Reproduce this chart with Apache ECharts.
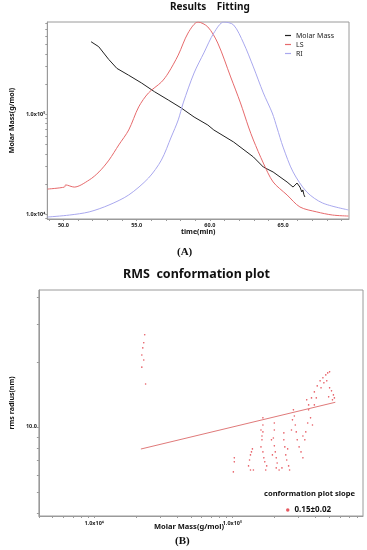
<!DOCTYPE html>
<html><head><meta charset="utf-8">
<script src="https://cdn.jsdelivr.net/npm/echarts@6.0.0/dist/echarts.min.js"></script>
<style>html,body{margin:0;padding:0;background:#fff}#c{width:367px;height:550px}</style>
</head><body><div id="c"></div>
<script>
// ---- Panel A data ----
const timeLabels = [50, 55, 60, 65];
const timeTicks = [49,50,51,52,53,54,55,56,57,58,59,60,61,62,63,64,65,66,67,68,69];
const massLabels = [10000, 100000];
const massTicks = [9000,10000,20000,30000,40000,50000,60000,70000,80000,90000,100000,200000,300000,400000,500000,600000,700000,800000];
const molarTime = [51.89,52.41,53.09,53.65,54.44,55.34,56.22,57.16,58.04,58.92,59.86,60.27,61.62,62.97,63.65,64.32,65.27,65.68,65.95,66.15,66.28,66.35,66.42,66.49];
const molarMass = [528000,471000,352000,286000,245000,204000,167000,138000,115000,93300,77600,69200,52500,37200,29500,26300,20900,18600,20400,18600,16600,17400,15600,14800];
const lsTime = [48.92,50.07,50.15,50.74,51.76,52.43,53.11,53.78,54.46,55.14,55.81,56.69,57.16,57.84,58.51,59.19,59.86,60.54,61.42,62.09,62.64,62.97,63.65,64.32,65.27,66.15,67.30,68.38,69.46];
const lsSignal = [0.152,0.162,0.173,0.162,0.198,0.239,0.299,0.376,0.452,0.569,0.640,0.695,0.741,0.832,0.944,1.0,0.975,0.893,0.721,0.589,0.467,0.401,0.284,0.188,0.122,0.061,0.036,0.020,0.015];
const riTime = [48.92,50.41,51.76,53.11,54.46,55.81,56.69,57.36,57.84,58.18,58.92,59.59,60.27,60.95,61.62,62.30,62.97,63.65,64.26,64.59,65.00,65.68,66.62,67.70,69.46];
const riSignal = [0.010,0.020,0.036,0.071,0.122,0.208,0.299,0.416,0.503,0.589,0.741,0.843,0.944,1.0,0.985,0.893,0.772,0.640,0.538,0.462,0.365,0.239,0.137,0.081,0.046];

// ---- Panel B data ----
const rmsMassLabels = [10000, 100000];
const rmsMassTicks = [4000,5000,6000,7000,8000,9000,10000,20000,30000,40000,50000,60000,70000,80000,90000,100000,200000,300000,400000,500000,600000,700000,800000];
const radiusLabels = [10];
const radiusTicks = [4,5,6,7,8,9,10,20,30,40];
const rmsMass = [23210,22840,22470,22120,22120,22840,23560,
  103200,103200,101600,
  130900,133100,135200,137400,139600,135200,141900,
  166300,166300,166300,163700,163700,161000,166300,168900,171600,177100,174300,161000,
  201100,201100,197900,201100,204300,207600,210900,217800,207600,194800,191800,
  235700,235700,239500,243300,247200,255200,259300,228300,251200,
  276300,280700,285200,289800,294400,303900,313700,323800,272000,267600,
  345100,356200,367700,379600,339700,334300,391800,404500,323800,350600,
  356200,373600,391800,411000,431000,451900,474000,489400,505100,459200,481800,437900,
  505100,521400,538200,547000,497300,529800];
const rmsRadius = [26.7,24.5,23.2,21.5,18.9,20.4,15.8,
  7.19,6.89,6.19,
  6.60,7.03,7.42,7.66,7.91,6.32,6.32,
  11.01,10.21,9.48,9.08,8.71,8.08,7.66,7.19,6.89,6.60,6.32,9.68,
  10.43,9.68,8.89,8.17,7.66,7.19,6.81,6.32,6.46,7.42,8.71,
  9.38,8.71,8.08,7.42,7.03,6.60,6.32,6.46,7.91,
  11.99,11.24,10.21,9.48,8.71,8.08,7.66,7.19,10.78,9.68,
  13.34,11.99,11.01,10.21,9.48,8.71,12.64,13.62,9.08,10.43,
  12.64,13.62,14.52,15.48,16.33,16.86,17.40,17.78,17.98,15.99,16.33,15.16,
  15.16,14.68,14.06,13.62,13.77,13.34];
const fitMass = [21780, 555600];
const fitRadius = [7.9, 13.0];
const slopeText = '0.15\u00b10.02';

const zip = (a, b) => a.map((v, i) => [v, b[i]]);
const supDigits = {'3':'\u00b3','4':'\u2074','5':'\u2075','6':'\u2076'};
const sci = v => '1.0x10' + supDigits[String(Math.round(Math.log10(v)))];

const FONT = 'Noto Sans';
const axisGray = '#9a9a9a';
const tickLabel = {fontSize: 5.5, fontWeight: 'bold', color: '#222', fontFamily: FONT};

const chart = echarts.init(document.getElementById('c'), null, {renderer: 'canvas'});
chart.setOption({
  animation: false,
  backgroundColor: '#fff',
  title: [
    {text: 'Results    Fitting', left: 170, top: 2, padding: 0, textStyle: {fontSize: 10, fontWeight: 'bold', color: '#111', fontFamily: FONT}},
    {text: 'RMS  conformation plot', left: 123, top: 268, padding: 0, textStyle: {fontSize: 12.5, fontWeight: 'bold', color: '#111', fontFamily: FONT}}
  ],
  legend: [
    {orient: 'vertical', left: 280, top: 27, itemWidth: 6, itemHeight: 1.2, itemGap: 2, icon: 'rect',
     data: ['Molar Mass', 'LS', 'RI'], textStyle: {fontSize: 7, color: '#222', fontFamily: FONT}, selectedMode: false},
    {orient: 'vertical', left: 281, top: 501, itemWidth: 3.5, itemHeight: 3.5, icon: 'circle',
     data: [slopeText], textStyle: {fontSize: 8, fontWeight: 'bold', color: '#111', fontFamily: FONT}, selectedMode: false}
  ],
  grid: [
    {left: 45, top: 22, width: 304, height: 197, show: true, borderColor: axisGray, borderWidth: 1},
    {left: 23, top: 290, width: 340, height: 226, show: true, borderColor: axisGray, borderWidth: 1}
  ],
  xAxis: [
    {type: 'value', gridIndex: 0, min: 48.9, max: 69.5,
     name: 'time(min)', nameLocation: 'middle', nameGap: 7,
     nameTextStyle: {fontSize: 7, fontWeight: 'bold', color: '#111', fontFamily: FONT},
     axisLine: {lineStyle: {color: axisGray}},
     axisTick: {customValues: timeTicks, length: 2, lineStyle: {color: axisGray}},
     axisLabel: {customValues: timeLabels, formatter: v => v.toFixed(1), margin: 3, ...tickLabel},
     splitLine: {show: false}},
    {type: 'log', gridIndex: 1, min: 3981, max: 881000,
     axisLine: {lineStyle: {color: axisGray}},
     axisTick: {customValues: rmsMassTicks, length: 2, lineStyle: {color: axisGray}},
     axisLabel: {customValues: rmsMassLabels, formatter: sci, margin: 4, ...tickLabel},
     splitLine: {show: false}}
  ],
  yAxis: [
    {type: 'log', gridIndex: 0, min: 8913, max: 831800,
     name: 'Molar Mass(g/mol)', nameLocation: 'middle', nameGap: 21,
     nameTextStyle: {fontSize: 7, fontWeight: 'bold', color: '#111', fontFamily: FONT},
     axisLine: {lineStyle: {color: axisGray}},
     axisTick: {customValues: massTicks, length: 2, lineStyle: {color: axisGray}},
     axisLabel: {customValues: massLabels, formatter: sci, margin: 2, ...tickLabel},
     splitLine: {show: false}},
    {type: 'value', gridIndex: 0, min: 0, max: 1, show: false},
    {type: 'log', gridIndex: 1, min: 3.87, max: 43,
     name: 'rms radius(nm)', nameLocation: 'middle', nameGap: 12,
     nameTextStyle: {fontSize: 7, fontWeight: 'bold', color: '#111', fontFamily: FONT},
     axisLine: {lineStyle: {color: axisGray}},
     axisTick: {customValues: radiusTicks, length: 2, lineStyle: {color: axisGray}},
     axisLabel: {customValues: radiusLabels, formatter: v => v.toFixed(1), margin: 2, ...tickLabel},
     splitLine: {show: false}}
  ],
  graphic: [
    {type: 'text', left: 177, top: 247, style: {text: '(A)', fontSize: 11, fontWeight: 'bold', fontFamily: 'Liberation Serif', fill: '#111'}},
    {type: 'text', left: 175, top: 536, style: {text: '(B)', fontSize: 11, fontWeight: 'bold', fontFamily: 'Liberation Serif', fill: '#111'}},
    {type: 'text', left: 154, top: 523, style: {text: 'Molar Mass(g/mol)', fontSize: 7.5, fontWeight: 'bold', fontFamily: FONT, fill: '#111'}},
    {type: 'text', left: 264, top: 490, style: {text: 'conformation plot slope', fontSize: 7.6, fontWeight: 'bold', fontFamily: FONT, fill: '#111'}}
  ],
  series: [
    {name: 'Molar Mass', type: 'line', xAxisIndex: 0, yAxisIndex: 0, data: zip(molarTime, molarMass),
     showSymbol: false, symbol: 'none', lineStyle: {color: '#222', width: 1}, itemStyle: {color: '#222'}},
    {name: 'LS', type: 'line', xAxisIndex: 0, yAxisIndex: 1, data: zip(lsTime, lsSignal), smooth: 0.3,
     showSymbol: false, symbol: 'none', lineStyle: {color: '#e66a6c', width: 1}, itemStyle: {color: '#e66a6c'}},
    {name: 'RI', type: 'line', xAxisIndex: 0, yAxisIndex: 1, data: zip(riTime, riSignal), smooth: 0.3,
     showSymbol: false, symbol: 'none', lineStyle: {color: '#a9a8ee', width: 1}, itemStyle: {color: '#a9a8ee'}},
    {name: slopeText, type: 'scatter', xAxisIndex: 1, yAxisIndex: 2, data: zip(rmsMass, rmsRadius),
     symbolSize: 1.6, itemStyle: {color: '#e0303a'}},
    {name: 'fit', type: 'line', xAxisIndex: 1, yAxisIndex: 2, data: zip(fitMass, fitRadius),
     showSymbol: false, symbol: 'none', lineStyle: {color: '#e07a7a', width: 1}}
  ]
});
</script>
</body></html>
